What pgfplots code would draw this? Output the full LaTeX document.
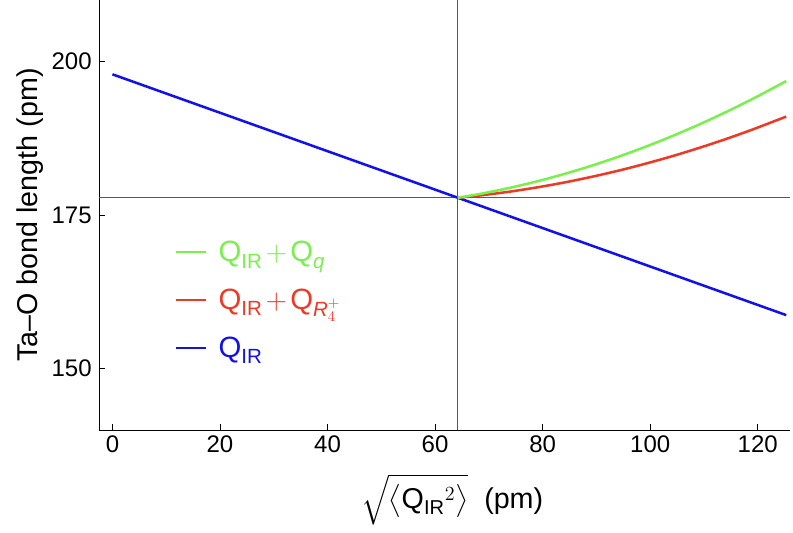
\RequirePackage{fix-cm}
\documentclass[border=0pt]{standalone}
\usepackage{amsmath}
\usepackage{pgfplots}
\pgfplotsset{compat=1.18}
\usepackage{fontspec}
\setmainfont{Liberation Sans}

\definecolor{cgreen}{RGB}{122,240,77}
\definecolor{cred}{RGB}{236,58,38}
\definecolor{cblue}{RGB}{18,18,232}

\begin{document}
\begin{tikzpicture}
\begin{axis}[
  width=518.25pt, height=322.5pt, scale only axis,
  xmin=-2.5, xmax=126, ymin=140, ymax=210,
  axis lines*=left,
  axis line style={black, line width=0.6pt},
  xtick={0,20,...,120}, ytick={150,175,200},
  tick align=inside, major tick length=4.5pt,
  tick style={black, line width=0.6pt},
  ticklabel style={font=\fontsize{18}{21}\selectfont},
  /pgf/number format/assume math mode=true,
  xticklabel style={yshift=-1pt},
  yticklabel style={xshift=-2pt},
  xlabel={$\sqrt{\bigl\langle \text{Q}_{\text{IR}}{}^{2}\bigr\rangle}$\ \ (pm)},
  ylabel={Ta–O bond length (pm)},
  every axis x label/.style={at={(rel axis cs:0.511,0)}, anchor=center, yshift=-52pt, font=\fontsize{21.5}{25}\selectfont},
  every axis y label/.style={at={(rel axis cs:0,0.5)}, rotate=90, anchor=center, yshift=52pt, font=\fontsize{21.5}{25}\selectfont},
  legend style={at={(rel axis cs:0.11,0.302)}, anchor=west, draw=none, fill=none,
    inner sep=0pt, row sep=15pt, font=\fontsize{22}{26}\selectfont,
    /tikz/every odd column/.style={column sep=7pt}},
  legend cell align=left,
  legend image code/.code={\draw[#1] (0pt,0pt) -- (22pt,0pt);},
]
% reference lines
\addplot[gray!70!black, line width=0.6pt, forget plot] coordinates {(64.2,140) (64.2,210)};
\addplot[gray!70!black, line width=0.6pt, forget plot] coordinates {(-2.5,177.8) (126,177.8)};

\addplot[cblue, line width=1.9pt, forget plot] coordinates {(0,197.9) (125.3,158.7)};

\addplot[cred, line width=1.9pt, smooth, forget plot] coordinates {
  (64.2,177.8) (69.2,178.27) (74.2,178.84) (79.2,179.53) (84.2,180.32)
  (89.2,181.23) (94.2,182.24) (99.2,183.37) (104.2,184.6) (109.2,185.95)
  (114.2,187.4) (119.2,188.97) (125.3,191.02)};

\addplot[cgreen, line width=1.9pt, smooth, forget plot] coordinates {
  (64.2,177.8) (69.2,178.57) (74.2,179.48) (79.2,180.53) (84.2,181.72)
  (89.2,183.05) (94.2,184.52) (99.2,186.13) (104.2,187.88) (109.2,189.77)
  (114.2,191.8) (119.2,193.97) (125.3,196.8)};

\addlegendimage{color=cgreen, line width=1.5pt}
\addlegendentry{\textcolor{cgreen}{$\text{Q}_{\text{IR}}\mkern-2mu+\mkern-2mu\text{Q}_{\textit{q}}$}}
\addlegendimage{color=cred, line width=1.5pt}
\addlegendentry{\textcolor{cred}{$\text{Q}_{\text{IR}}\mkern-2mu+\mkern-2mu\text{Q}_{\textit{R}_{4}^{+}}$}}
\addlegendimage{color=cblue, line width=1.5pt}
\addlegendentry{\textcolor{cblue}{$\text{Q}_{\text{IR}}$}}
\end{axis}
\pgfresetboundingbox
\path ([xshift=-74.25pt, yshift=-77.25pt]current axis.south west) rectangle ([xshift=2.25pt]current axis.north east);
\end{tikzpicture}
\end{document}
